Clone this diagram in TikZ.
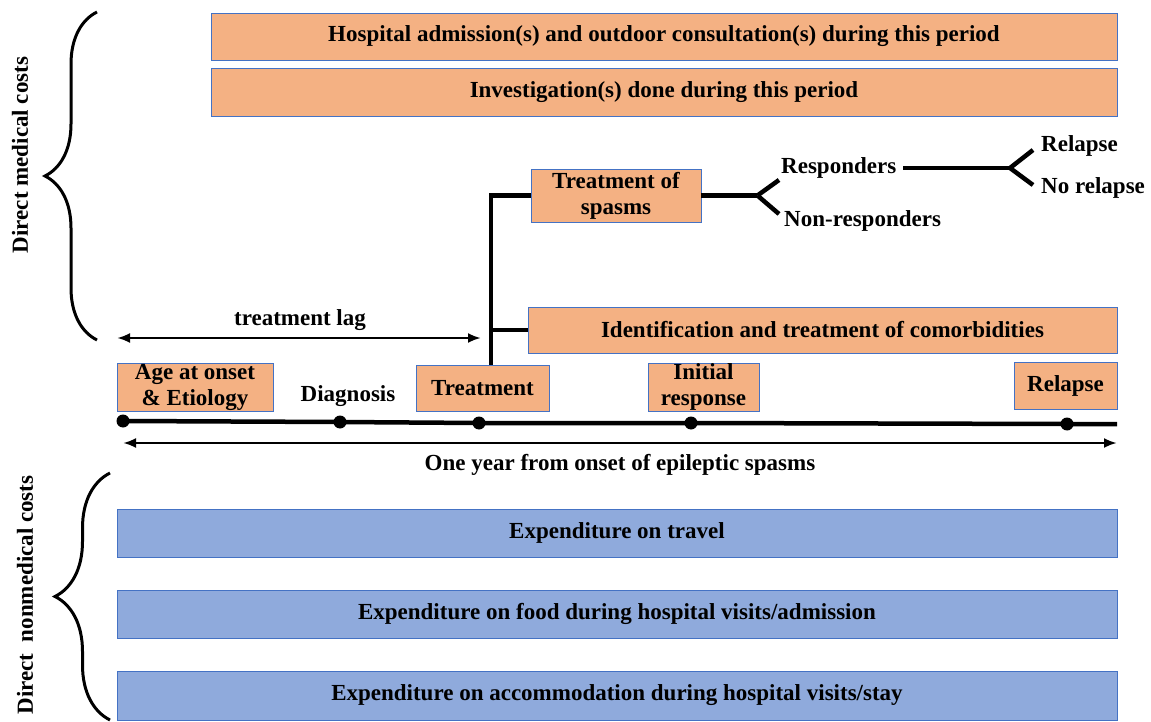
\documentclass[tikz,border=0pt]{standalone}
\usepackage{fontspec}
\setmainfont{Liberation Serif}
\usepackage{tikz}
\usetikzlibrary{calc,arrows.meta,decorations.pathreplacing}
\definecolor{costorange}{HTML}{F4B183}
\definecolor{costblue}{HTML}{8FAADC}
\definecolor{edgeblue}{HTML}{4472C4}
\tikzset{
  orangebox/.style={draw=edgeblue,line width=0.9pt,fill=costorange,align=center,inner sep=2pt},
  bluebox/.style={draw=edgeblue,line width=0.9pt,fill=costblue,align=center,inner sep=2pt},
  plain/.style={inner sep=1pt,align=center},
  thickline/.style={line width=4.5pt},
  spanarrow/.style={line width=2.8pt,{Latex[length=13pt,width=10pt]}-{Latex[length=13pt,width=10pt]}},
  evt/.style={circle,fill=black,inner sep=0pt,minimum size=13pt},
  cbrace/.style={line width=3pt,decorate,decoration={brace,amplitude=#1,aspect=0.5}}
}
\begin{document}
\begin{tikzpicture}[x=1pt,y=-1pt,font=\fontsize{23}{26}\selectfont\bfseries]
\useasboundingbox (0,0) rectangle (1151,722);
% top cost boxes
\node[orangebox,minimum width=906,minimum height=47] (hosp) at (664,36.5) {Hospital admission(s) and outdoor consultation(s) during this period};
\node[orangebox,minimum width=906,minimum height=48] (invest) at (664,92) {Investigation(s) done during this period};
\node[orangebox,minimum width=170,minimum height=53,inner sep=0pt] (spasms) at (616,195.5) {Treatment of\\spasms};
\node[orangebox,minimum width=589,minimum height=46] (ident) at (822.5,330) {Identification and treatment of comorbidities};
% events on the time line
\node[orangebox,minimum width=156,minimum height=48,inner sep=0pt] (age) at (195,387) {Age at onset\\\& Etiology};
\node[plain] (diag) at (348,396) {Diagnosis};
\node[orangebox,minimum width=133,minimum height=46] (treat) at (482.5,388) {Treatment};
\node[orangebox,minimum width=111,minimum height=48,inner sep=0pt] (init) at (703.5,387) {Initial\\response};
\node[orangebox,minimum width=103,minimum height=47] (relbox) at (1065.5,385.5) {Relapse};
% outcomes
\node[plain,anchor=west] (resp) at (780,168) {Responders};
\node[plain,anchor=west] (nonresp) at (783,221) {Non-responders};
\node[plain,anchor=west] (rel) at (1040,146) {Relapse};
\node[plain,anchor=west] (norel) at (1040,188) {No relapse};
% nonmedical boxes
\node[bluebox,minimum width=1000,minimum height=48] (travel) at (617,533) {Expenditure on travel};
\node[bluebox,minimum width=1000,minimum height=48] (food) at (617,614) {Expenditure on food during hospital visits/admission};
\node[bluebox,minimum width=1000,minimum height=49] (accom) at (617,695.5) {Expenditure on accommodation during hospital visits/stay};
% time line
\node[evt] (d1) at (123,421) {};
\node[evt] (d2) at (340,422) {};
\node[evt] (d3) at (479,423) {};
\node[evt] (d4) at (691,423) {};
\node[evt] (d5) at (1067,424) {};
\coordinate (tlend) at (1117,424);
\draw[thickline] (d1.center) -- (d2.center) -- (d3.center) -- (d4.center) -- (d5.center) -- (tlend);
\coordinate (ya) at (123,443);
\coordinate (yb) at (1117,443);
\draw[spanarrow] (ya) -- (yb);
\node[plain] (year) at (620,465) {One year from onset of epileptic spasms};
% treatment lag
\coordinate (laga) at (117,338);
\coordinate (lagb) at (481,338);
\draw[spanarrow] (laga) -- (lagb);
\node[plain] (lag) at (300,320) {treatment lag};
% branches after treatment
\coordinate (branchx) at (491,0);
\draw[thickline] (branchx |- treat.north) |- (spasms.west);
\draw[thickline] (ident.west) -- (ident.west -| branchx);
\draw[thickline] (spasms.east) -- ++(56,0) coordinate (fork1);
\draw[thickline] (fork1) -- (779,180);
\draw[thickline] (fork1) -- (779,214);
\draw[thickline] (resp.east) ++(6,0) -- (1010,168) coordinate (fork2);
\draw[thickline] (fork2) -- (1033,150);
\draw[thickline] (fork2) -- (1033,185);
% braces
\draw[cbrace=52] (97,340) -- (97,12);
\draw[cbrace=55] (110,720) -- (110,473);
\node[plain,rotate=90] (medlab) at (20,155) {Direct medical costs};
\node[plain,rotate=90] (nonmedlab) at (25,595) {Direct\ \ nonmedical costs};
\end{tikzpicture}
\end{document}
